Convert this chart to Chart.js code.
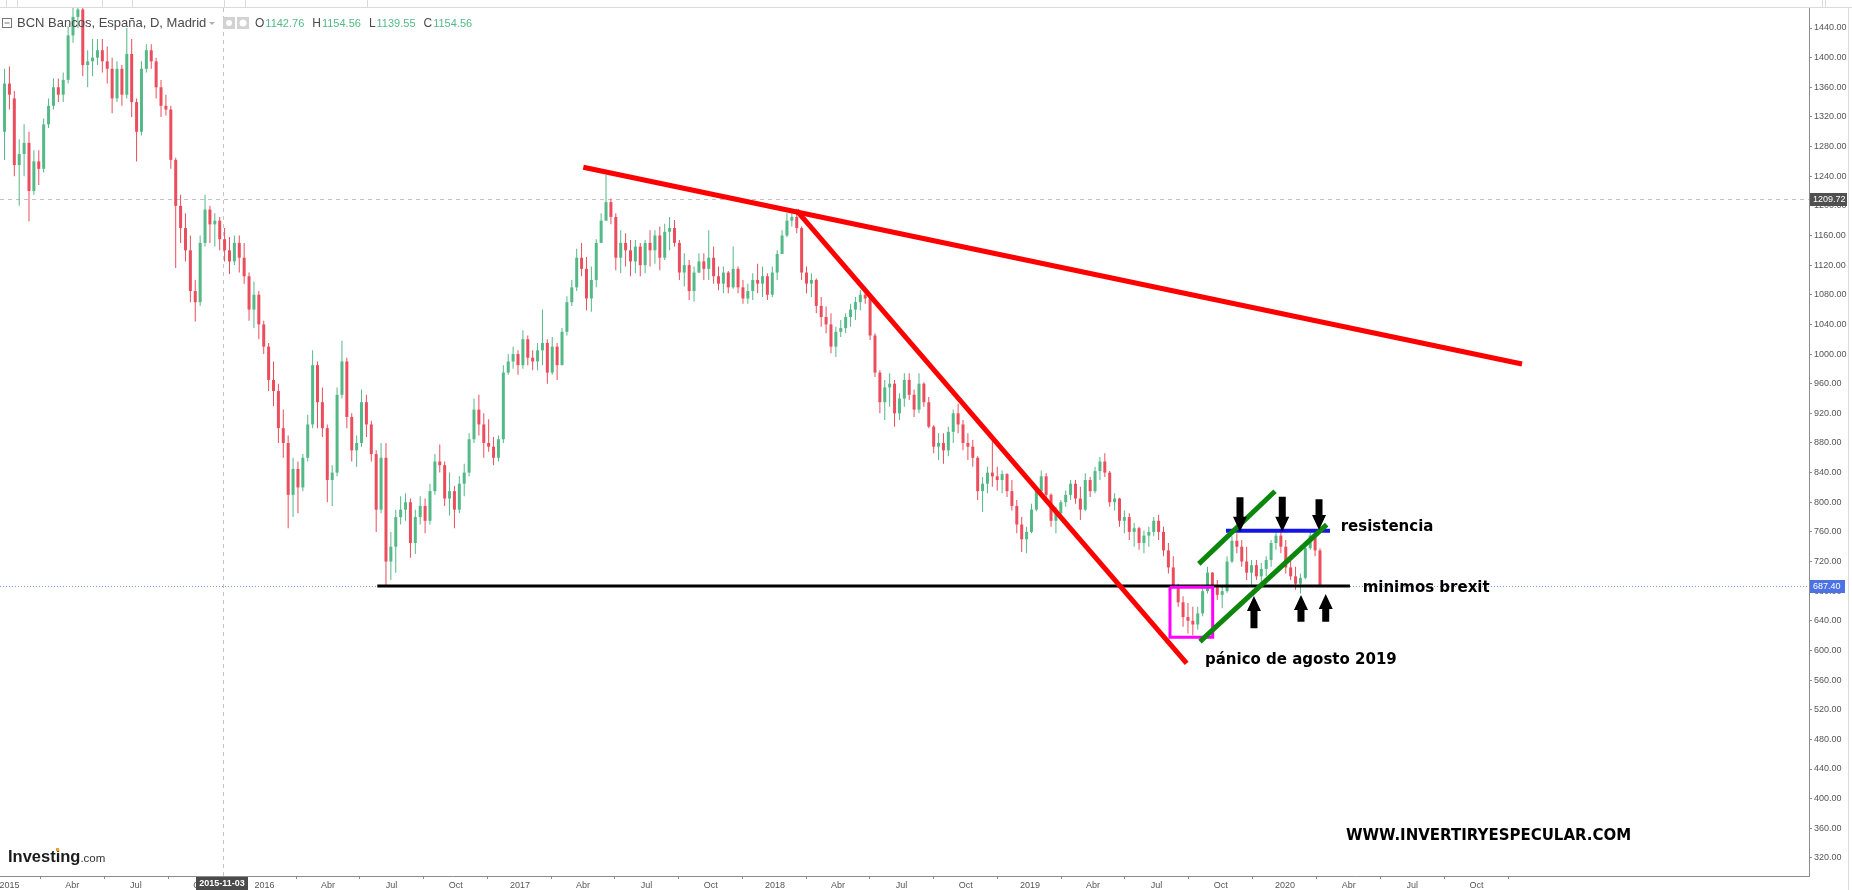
<!DOCTYPE html>
<html>
<head>
<meta charset="utf-8">
<script src="https://cdn.jsdelivr.net/npm/chart.js@4/dist/chart.umd.min.js"></script>
<style>
html, body { margin: 0; padding: 0; background: #fff; overflow: hidden; }
canvas { display: block; }
</style>
</head>
<body>
<canvas id="myChart" width="1852" height="890"></canvas>
<script>
// weekly candles, first week starts 2014-12-25
const firstWeek = '2014-12-25'
const open = [
  1300,1365,1345,1255,1270,1285,1220,1260,1250,1310,
  1335,1360,1350,1370,1430,1455,1465,1390,1395,1400,
  1410,1395,1385,1345,1385,1350,1405,1340,1300,1385,
  1410,1395,1360,1335,1330,1262,1200,1170,1140,1085,
  1070,1150,1195,1175,1180,1155,1140,1125,1150,1130,
  1105,1060,1080,1040,1010,965,950,900,880,810,
  845,820,860,905,985,935,900,830,840,945,
  990,915,870,880,935,905,865,790,860,720,
  740,780,790,800,745,780,795,775,815,855,
  850,805,815,790,825,840,885,925,905,880,
  875,860,885,975,990,1000,985,1020,995,990,
  1005,1015,975,1010,985,1030,1070,1090,1130,1115,
  1075,1100,1150,1180,1205,1185,1130,1150,1140,1125,
  1145,1120,1150,1140,1160,1130,1165,1170,1150,1110,
  1120,1085,1110,1125,1115,1130,1105,1095,1110,1090,
  1115,1090,1075,1085,1100,1095,1105,1080,1110,1135,
  1160,1180,1185,1170,1110,1095,1100,1065,1050,1040,
  1010,1030,1035,1050,1060,1070,1080,1075,1025,975,
  935,955,960,920,940,965,945,925,960,935,
  902,875,880,870,895,920,905,880,875,860,
  815,825,840,835,830,838,815,795,770,750,
  760,790,815,835,810,775,785,800,810,825,
  805,790,830,815,842,855,840,800,805,775,
  780,760,765,745,755,760,775,760,735,712,
  688,665,645,640,635,650,680,705,685,675,
  680,720,748,740,720,705,715,700,710,722,
  745,755,740,712,700,690,698,738,755,735
]
const high = [
  1385,1388,1355,1290,1310,1300,1275,1275,1318,1345,
  1372,1372,1380,1442,1468,1478,1470,1410,1425,1425,
  1425,1415,1400,1395,1390,1440,1425,1345,1395,1418,
  1418,1400,1370,1350,1335,1265,1215,1190,1160,1100,
  1160,1215,1200,1190,1185,1170,1158,1160,1160,1150,
  1110,1098,1085,1045,1015,990,960,925,890,860,
  855,865,918,1005,990,955,905,850,955,1018,
  995,920,890,952,945,910,870,880,880,760,
  790,808,812,805,790,808,805,825,865,878,
  855,840,822,835,852,893,940,945,920,912,
  888,890,985,1000,1010,1005,1032,1025,1005,1015,
  1060,1020,1023,1015,1035,1078,1100,1142,1150,1131,
  1118,1155,1190,1242,1210,1190,1167,1163,1154,1154,
  1150,1154,1167,1167,1172,1176,1185,1181,1154,1136,
  1127,1118,1136,1136,1167,1145,1118,1118,1112,1145,
  1118,1100,1095,1109,1122,1118,1109,1118,1140,1167,
  1190,1194,1196,1172,1118,1109,1102,1077,1064,1055,
  1037,1046,1055,1068,1077,1086,1091,1077,1028,978,
  965,974,965,947,974,974,952,974,962,942,
  904,893,893,902,925,933,911,893,884,862,
  834,848,882,848,843,839,830,803,780,767,
  798,821,843,839,812,794,803,816,830,830,
  821,839,834,848,861,866,842,812,806,789,
  785,772,767,762,767,780,783,767,745,727,
  690,673,664,659,659,686,713,706,695,686,
  727,754,758,749,740,722,722,718,727,749,
  763,763,749,727,713,704,745,763,760,738
]
const low = [
  1262,1330,1240,1200,1240,1179,1215,1228,1245,1305,
  1330,1340,1340,1365,1420,1440,1375,1360,1375,1390,
  1380,1365,1325,1340,1335,1345,1320,1260,1295,1380,
  1385,1345,1320,1322,1250,1116,1150,1125,1070,1044,
  1065,1145,1150,1145,1140,1125,1108,1120,1110,1095,
  1045,1035,1020,1000,950,930,880,860,765,780,
  785,815,855,900,900,888,800,795,835,940,
  900,855,848,875,888,855,760,785,686,695,
  705,770,775,725,730,770,758,770,810,840,
  795,782,765,785,808,835,880,890,860,868,
  850,855,880,972,980,972,980,985,978,978,
  985,960,972,965,985,1025,1065,1085,1105,1059,
  1057,1090,1150,1180,1175,1113,1109,1118,1105,1109,
  1105,1109,1118,1122,1113,1127,1140,1145,1100,1091,
  1073,1071,1109,1100,1100,1095,1086,1082,1082,1088,
  1082,1068,1068,1073,1082,1077,1073,1077,1100,1135,
  1158,1172,1163,1100,1082,1077,1055,1037,1028,1001,
  996,1023,1028,1037,1046,1059,1068,1019,969,920,
  911,929,902,911,929,938,915,920,929,900,
  866,857,852,862,880,893,870,857,848,803,
  787,812,821,816,812,807,789,758,733,731,
  758,788,812,803,767,758,776,794,803,798,
  776,788,807,812,830,834,794,789,767,758,
  749,740,736,731,740,754,749,727,704,686,
  659,632,623,620,628,646,677,668,668,657,
  678,718,731,713,695,686,695,691,700,713,
  736,731,704,695,682,677,696,736,727,686
]
const close = [
  1365,1350,1255,1270,1285,1220,1260,1250,1310,1335,
  1360,1350,1370,1430,1455,1465,1390,1395,1400,1410,
  1395,1385,1345,1385,1350,1405,1340,1300,1385,1410,
  1395,1360,1335,1330,1262,1200,1170,1140,1085,1070,
  1150,1195,1175,1180,1155,1140,1125,1150,1130,1105,
  1060,1080,1040,1010,965,950,900,880,810,845,
  820,860,905,985,935,900,830,840,945,990,
  915,870,880,935,905,865,790,860,720,740,
  780,790,800,745,780,795,775,815,855,850,
  805,815,790,825,840,885,925,905,880,875,
  860,885,975,990,1000,985,1020,995,990,1005,
  1015,975,1010,985,1030,1070,1090,1130,1115,1075,
  1100,1150,1180,1205,1185,1130,1150,1140,1125,1145,
  1120,1150,1140,1160,1130,1165,1170,1150,1110,1120,
  1085,1110,1125,1115,1130,1105,1095,1110,1090,1115,
  1090,1075,1085,1100,1095,1105,1080,1110,1135,1160,
  1180,1185,1170,1110,1095,1100,1065,1050,1040,1010,
  1030,1035,1050,1060,1070,1080,1075,1025,975,935,
  955,960,920,940,965,945,925,960,935,902,
  875,880,870,895,920,905,880,875,860,815,
  825,840,835,830,838,815,795,770,750,760,
  790,815,835,810,775,785,800,810,825,805,
  790,830,815,842,855,840,800,805,775,780,
  760,765,745,755,760,775,760,735,712,688,
  665,645,640,635,650,680,705,685,675,680,
  720,748,740,720,705,715,700,710,722,745,
  755,740,712,700,690,698,738,755,735,687.4
]

// axis ticks
const tickDates = ['2015-01-01','2015-04-01','2015-07-01','2015-10-01','2016-01-01','2016-04-01','2016-07-01','2016-10-01',
  '2017-01-01','2017-04-01','2017-07-01','2017-10-01','2018-01-01','2018-04-01','2018-07-01','2018-10-01',
  '2019-01-01','2019-04-01','2019-07-01','2019-10-01','2020-01-01','2020-04-01','2020-07-01','2020-10-01']
const tickLabels = ['2015','Abr','Jul','Oct','2016','Abr','Jul','Oct','2017','Abr','Jul','Oct',
  '2018','Abr','Jul','Oct','2019','Abr','Jul','Oct','2020','Abr','Jul','Oct']
const priceTicks = [320,360,400,440,480,520,560,600,640,680,720,760,800,840,880,920,960,1000,
  1040,1080,1120,1160,1200,1240,1280,1320,1360,1400,1440]

// drawn annotations, [day since 2015-01-01, price]
const redLong = [[821.5, 1252], [2165.2, 986.6]]
const redSteep = [[1126.9, 1193.4], [1685.2, 582.7]]
const brexitLow = [[526.6, 687], [1918.9, 687]]
const panicBox = [[1661.3, 685.2], [1722.4, 685.2], [1722.4, 617.7], [1661.3, 617.7], [1661.3, 685.2]]
const channelTop = [[1702.5, 716.9], [1811.6, 814.9]]
const channelBottom = [[1704.2, 611.8], [1885.6, 769.9]]
const resistLine = [[1741.4, 761.6], [1890.3, 761.6]]
const arrowX = [1761.5, 1822, 1874.6, 1781.5, 1848.8, 1884.2]
const arrowFrom = [806.7, 807.5, 804, 629.9, 638.8, 638.8]
const arrowTo = [760.3, 760.3, 762.5, 673.5, 674.8, 676.2]
const notes = [['resistencia', 1905.6, 766.2], ['minimos brexit', 1937.1, 683.9], ['pánico de agosto 2019', 1711.4, 587.1]]

const crossDate = '2015-11-03'
const crossPrice = 1209.72
const lastPrice = 687.40
const headerTitle = 'BCN Bancos, España, D, Madrid'
const headerOHLC = [['O', '1142.76'], ['H', '1154.56'], ['L', '1139.55'], ['C', '1154.56']]

function dayOf(s) {
  const p = s.split('-').map(Number)
  return (Date.UTC(p[0], p[1] - 1, p[2]) - Date.UTC(2015, 0, 1)) / 864e5
}

const green = '#53b987'
const red = '#eb4d5c'
const candleX = open.map((_, i) => dayOf(firstWeek) + 7 * i)
const candleColor = open.map((o, i) => close[i] >= o ? green : red)

function lineSet(label, pts, color, width, order) {
  return {
    type: 'line', label: label,
    data: pts.map(p => ({x: p[0], y: p[1]})),
    borderColor: color, borderWidth: width, pointRadius: 0, fill: false, tension: 0,
    borderCapStyle: 'butt', borderJoinStyle: 'miter', order: order
  }
}

const overlay = {
  id: 'overlay',
  beforeDatasetsDraw(chart) {
    const {ctx, chartArea: a, scales: {x, y}} = chart
    ctx.save()
    ctx.lineWidth = 1
    ctx.strokeStyle = '#c4c4c4'
    ctx.setLineDash([4, 4])
    const cx = Math.round(x.getPixelForValue(dayOf(crossDate))) + 0.5
    ctx.beginPath(); ctx.moveTo(cx, a.top); ctx.lineTo(cx, a.bottom); ctx.stroke()
    const cy = Math.round(y.getPixelForValue(crossPrice)) + 0.5
    ctx.beginPath(); ctx.moveTo(a.left, cy); ctx.lineTo(a.right, cy); ctx.stroke()
    ctx.strokeStyle = '#7b98e8'
    ctx.setLineDash([1, 2])
    const ly = Math.round(y.getPixelForValue(lastPrice)) + 0.5
    ctx.beginPath(); ctx.moveTo(a.left, ly); ctx.lineTo(a.right, ly); ctx.stroke()
    ctx.restore()
  },
  afterDatasetsDraw(chart) {
    const {ctx, scales: {x, y}} = chart
    ctx.save()
    ctx.fillStyle = '#000'
    arrowX.forEach((d, i) => {
      const px = x.getPixelForValue(d)
      const y0 = y.getPixelForValue(arrowFrom[i])
      const y1 = y.getPixelForValue(arrowTo[i])
      const dir = y1 > y0 ? 1 : -1
      const hb = y1 - dir * 15
      ctx.beginPath()
      ctx.moveTo(px - 3.5, y0); ctx.lineTo(px + 3.5, y0)
      ctx.lineTo(px + 3.5, hb); ctx.lineTo(px + 7, hb)
      ctx.lineTo(px, y1); ctx.lineTo(px - 7, hb)
      ctx.lineTo(px - 3.5, hb); ctx.closePath()
      ctx.fill()
    })
    ctx.font = 'bold 15px "DejaVu Sans"'
    ctx.textBaseline = 'middle'
    ctx.textAlign = 'left'
    notes.forEach(n => ctx.fillText(n[0], x.getPixelForValue(n[1]), y.getPixelForValue(n[2])))
    ctx.restore()
  },
  afterDraw(chart) {
    const {ctx, chartArea: a, scales: {x, y}} = chart
    ctx.save()
    // toolbar strip
    ctx.strokeStyle = '#dadada'
    ctx.lineWidth = 1
    ctx.beginPath(); ctx.moveTo(0, 7.5); ctx.lineTo(1852, 7.5); ctx.stroke()
    ;[6, 17, 102, 132, 224, 245, 367, 1822, 1825].forEach(v => {
      ctx.beginPath(); ctx.moveTo(v + 0.5, 0); ctx.lineTo(v + 0.5, 7); ctx.stroke()
    })
    ctx.beginPath(); ctx.moveTo(1848.5, 8); ctx.lineTo(1848.5, 890); ctx.stroke()

    // header
    ctx.strokeStyle = '#777'
    ctx.strokeRect(2.5, 18.5, 9, 9)
    ctx.beginPath(); ctx.moveTo(4.5, 23); ctx.lineTo(9.5, 23); ctx.stroke()
    ctx.font = '13px "Liberation Sans"'
    ctx.textBaseline = 'middle'
    ctx.fillStyle = '#4a4a4a'
    ctx.fillText(headerTitle, 17, 23.5)
    ctx.fillStyle = '#b0b0b0'
    ctx.beginPath(); ctx.moveTo(209, 22); ctx.lineTo(215, 22); ctx.lineTo(212, 25); ctx.closePath(); ctx.fill()
    ctx.fillStyle = '#d2d2d2'
    ctx.fillRect(223, 17, 12, 12); ctx.fillRect(237, 17, 12, 12)
    ctx.fillStyle = '#fff'
    ctx.beginPath(); ctx.arc(229, 23, 3, 0, Math.PI * 2); ctx.fill()
    ctx.beginPath(); ctx.arc(243, 23, 3.5, 0, Math.PI * 2); ctx.fill()
    let hx = 255
    headerOHLC.forEach(h => {
      ctx.font = '12px "Liberation Sans"'
      ctx.fillStyle = '#4a4a4a'
      ctx.fillText(h[0], hx, 23.5)
      hx += ctx.measureText(h[0]).width + 1
      ctx.font = '11px "Liberation Sans"'
      ctx.fillStyle = green
      ctx.fillText(h[1], hx, 23.5)
      hx += ctx.measureText(h[1]).width + 8
    })

    // price label boxes
    const cy = y.getPixelForValue(crossPrice)
    ctx.fillStyle = '#505050'
    ctx.fillRect(a.right + 1, Math.round(cy) - 6, 37, 13)
    const ly = y.getPixelForValue(lastPrice)
    ctx.fillStyle = '#4d72e3'
    ctx.fillRect(a.right + 1, Math.round(ly) - 6, 35, 13)
    ctx.font = '9px "Liberation Sans"'
    ctx.fillStyle = '#fff'
    ctx.textAlign = 'left'
    ctx.fillText(crossPrice.toFixed(2), a.right + 4, Math.round(cy) + 0.5)
    ctx.fillText(lastPrice.toFixed(2), a.right + 4, Math.round(ly) + 0.5)

    // date label box
    const cx = x.getPixelForValue(dayOf(crossDate))
    ctx.fillStyle = '#4a4a4a'
    ctx.fillRect(Math.round(cx) - 27, a.bottom + 1, 52, 14)
    ctx.fillStyle = '#fff'
    ctx.font = 'bold 9px "Liberation Sans"'
    ctx.textAlign = 'center'
    ctx.fillText(crossDate, Math.round(cx) - 1, a.bottom + 8)

    // logos
    ctx.textAlign = 'left'
    ctx.textBaseline = 'alphabetic'
    ctx.fillStyle = '#1c1c1c'
    ctx.font = 'bold 16.5px "Liberation Sans"'
    ctx.fillText('Investing', 8, 862)
    const iw = ctx.measureText('Investing').width
    ctx.font = '11.5px "Liberation Sans"'
    ctx.fillStyle = '#333'
    ctx.fillText('.com', 8 + iw, 862)
    ctx.fillStyle = '#f4a11d'
    ctx.fillRect(56, 848, 3, 3)
    ctx.fillStyle = '#000'
    ctx.font = 'bold 15px "DejaVu Sans"'
    ctx.textBaseline = 'middle'
    ctx.fillText('WWW.INVERTIRYESPECULAR.COM', 1346, 836)
    ctx.restore()
  }
}

const ctx = document.getElementById('myChart')

var chart = new Chart(ctx, {
  type: 'bar',
  data: {
    datasets: [
      lineSet('tendencia larga', redLong, '#ff0000', 5, 1),
      lineSet('tendencia corta', redSteep, '#ff0000', 5, 1),
      lineSet('canal sup', channelTop, '#0c870c', 5, 2),
      lineSet('canal inf', channelBottom, '#0c870c', 5, 2),
      lineSet('resistencia', resistLine, '#1414e6', 4, 3),
      lineSet('panico', panicBox, '#ff00ff', 3, 4),
      lineSet('minimos brexit', brexitLow, '#000000', 3, 5),
      {
        type: 'bar', label: 'cuerpo',
        data: candleX.map((d, i) => ({x: d, y: [open[i], close[i]]})),
        backgroundColor: candleColor, grouped: false, maxBarThickness: 3, minBarLength: 1, order: 10
      },
      {
        type: 'bar', label: 'mecha',
        data: candleX.map((d, i) => ({x: d, y: [low[i], high[i]]})),
        backgroundColor: candleColor, grouped: false, maxBarThickness: 1, order: 11
      }
    ]
  },
  options: {
    responsive: false,
    animation: false,
    events: [],
    layout: {padding: {top: 8, left: 0, right: 0, bottom: 0}, autoPadding: false},
    plugins: {legend: {display: false}, tooltip: {enabled: false}},
    scales: {
      x: {
        type: 'linear', min: -13.5, max: 2576, offset: false,
        border: {display: true, color: '#8c8c8c'},
        grid: {drawOnChartArea: false, drawTicks: true, tickLength: 3, color: '#8c8c8c'},
        afterBuildTicks: s => { s.ticks = tickDates.map(t => ({value: dayOf(t)})) },
        afterFit: s => { s.height = 14; s.paddingLeft = 0; s.paddingRight = 0 },
        ticks: {
          autoSkip: false, maxRotation: 0, padding: 1, color: '#555',
          font: {family: 'Liberation Sans', size: 9},
          callback: (v, i) => tickLabels[i]
        }
      },
      y: {
        type: 'linear', position: 'right', min: 295.6, max: 1467,
        border: {display: true, color: '#8c8c8c'},
        grid: {drawOnChartArea: false, drawTicks: true, tickLength: 3, color: '#8c8c8c'},
        afterBuildTicks: s => { s.ticks = priceTicks.map(v => ({value: v})) },
        afterFit: s => { s.width = 43; s.paddingTop = 0; s.paddingBottom = 0 },
        ticks: {
          padding: 2, color: '#555',
          font: {family: 'Liberation Sans', size: 9},
          callback: v => Number(v).toFixed(2)
        }
      }
    }
  },
  plugins: [overlay]
})
</script>
</body>
</html>
